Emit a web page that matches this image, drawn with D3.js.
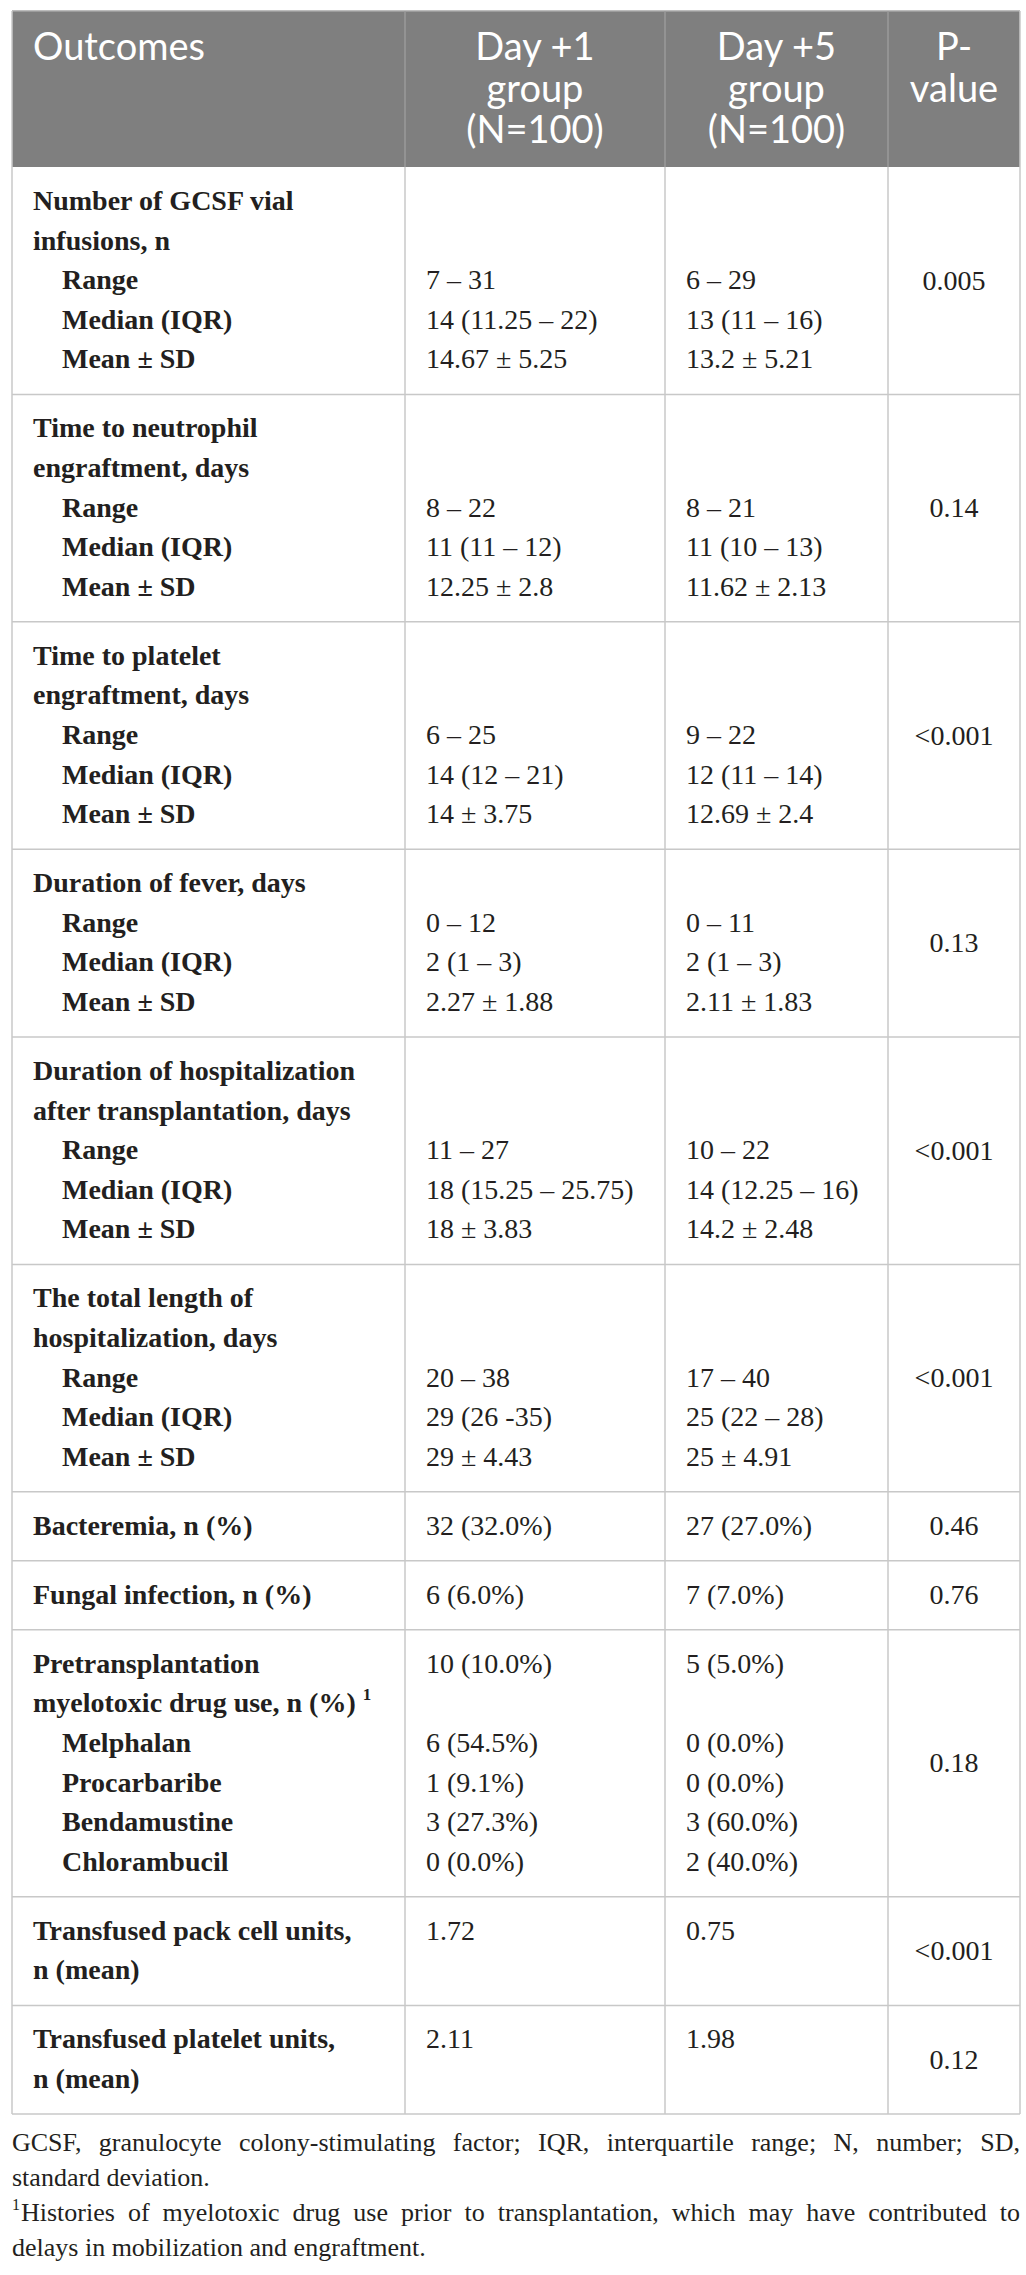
<!DOCTYPE html>
<html>
<head>
<meta charset="utf-8">
<script src="https://cdn.jsdelivr.net/npm/d3@7"></script>
<style>
  body { margin: 0; background: #fff; }
</style>
</head>
<body>
<svg id="tbl"></svg>
<script>
// header cells
const headers = [
    ["Outcomes"],
    ["Day +1", "group", "(N=100)"],
    ["Day +5", "group", "(N=100)"],
    ["P-", "value"]
];

// one entry per outcome block: first lines are bold titles, rest indented sub rows
const titles = [
    ["Number of GCSF vial", "infusions, n"],
    ["Time to neutrophil", "engraftment, days"],
    ["Time to platelet", "engraftment, days"],
    ["Duration of fever, days"],
    ["Duration of hospitalization", "after transplantation, days"],
    ["The total length of", "hospitalization, days"],
    ["Bacteremia, n (%)"],
    ["Fungal infection, n (%)"],
    ["Pretransplantation", "myelotoxic drug use, n (%)"],
    ["Transfused pack cell units,", "n (mean)"],
    ["Transfused platelet units,", "n (mean)"]
];

const stats = ["Range", "Median (IQR)", "Mean \u00b1 SD"];
const drugs = ["Melphalan", "Procarbaribe", "Bendamustine", "Chlorambucil"];
const subLabels = [stats, stats, stats, stats, stats, stats, [], [], drugs, [], []];

// values per line of each block (title lines included, "" = empty)
const day1 = [
    ["", "", "7 \u2013 31", "14 (11.25 \u2013 22)", "14.67 \u00b1 5.25"],
    ["", "", "8 \u2013 22", "11 (11 \u2013 12)", "12.25 \u00b1 2.8"],
    ["", "", "6 \u2013 25", "14 (12 \u2013 21)", "14 \u00b1 3.75"],
    ["", "0 \u2013 12", "2 (1 \u2013 3)", "2.27 \u00b1 1.88"],
    ["", "", "11 \u2013 27", "18 (15.25 \u2013 25.75)", "18 \u00b1 3.83"],
    ["", "", "20 \u2013 38", "29 (26 -35)", "29 \u00b1 4.43"],
    ["32 (32.0%)"],
    ["6 (6.0%)"],
    ["10 (10.0%)", "", "6 (54.5%)", "1 (9.1%)", "3 (27.3%)", "0 (0.0%)"],
    ["1.72", ""],
    ["2.11", ""]
];
const day5 = [
    ["", "", "6 \u2013 29", "13 (11 \u2013 16)", "13.2 \u00b1 5.21"],
    ["", "", "8 \u2013 21", "11 (10 \u2013 13)", "11.62 \u00b1 2.13"],
    ["", "", "9 \u2013 22", "12 (11 \u2013 14)", "12.69 \u00b1 2.4"],
    ["", "0 \u2013 11", "2 (1 \u2013 3)", "2.11 \u00b1 1.83"],
    ["", "", "10 \u2013 22", "14 (12.25 \u2013 16)", "14.2 \u00b1 2.48"],
    ["", "", "17 \u2013 40", "25 (22 \u2013 28)", "25 \u00b1 4.91"],
    ["27 (27.0%)"],
    ["7 (7.0%)"],
    ["5 (5.0%)", "", "0 (0.0%)", "0 (0.0%)", "3 (60.0%)", "2 (40.0%)"],
    ["0.75", ""],
    ["1.98", ""]
];
const pValues = ["0.005", "0.14", "<0.001", "0.13", "<0.001", "<0.001", "0.46", "0.76", "0.18", "<0.001", "0.12"];

const footnotes = [
    {text: "GCSF, granulocyte colony-stimulating factor; IQR, interquartile range; N, number; SD,", justify: true},
    {text: "standard deviation.", justify: false},
    {text: "Histories of myelotoxic drug use prior to transplantation, which may have contributed to", justify: true, sup: "1"},
    {text: "delays in mobilization and engraftment.", justify: false}
];

// layout
const W = 1026, H = 2275;
const tableLeft = 12, tableRight = 1020;
const headTop = 11, headBottom = 167;
const lineStep = 39.6, padTop = 43, padBottom = 26;
const ink = "#231f20";

const svg = d3.select("#tbl").attr("width", W).attr("height", H);

const colEdge = d3.scaleOrdinal()
    .domain(["outcome", "day1", "day5", "p", "end"])
    .range([tableLeft, 405, 665, 888, tableRight]);

// build blocks with y positions
let blocks = titles.map((t, i) => {
    let lines = t.map(s => ({label: s, bold: true}))
        .concat(subLabels[i].map(s => ({label: s, bold: true, indent: true})));
    lines.forEach((l, j) => { l.d1 = day1[i][j] || ""; l.d5 = day5[i][j] || ""; });
    return {lines: lines, p: pValues[i]};
});
let yCur = headBottom;
blocks.forEach(b => {
    b.top = yCur;
    b.bottom = yCur + padTop + (b.lines.length - 1) * lineStep + padBottom;
    yCur = b.bottom;
});
const tableBottom = yCur;

// header
const head = svg.append("g").attr("class", "head");
head.append("rect")
    .attr("x", tableLeft).attr("y", headTop)
    .attr("width", tableRight - tableLeft).attr("height", headBottom - headTop)
    .attr("fill", "#7f7f7f");
head.append("line")
    .attr("x1", tableLeft).attr("x2", tableRight)
    .attr("y1", headTop).attr("y2", headTop)
    .attr("stroke", "#a6a6a6").attr("stroke-width", 1.5);

const headKeys = ["outcome", "day1", "day5", "p"];
headers.forEach((lines, i) => {
    let k = headKeys[i];
    let x0 = colEdge(k), x1 = colEdge(headKeys[i + 1] || "end");
    head.append("text")
        .attr("font-family", "Lato, 'Open Sans', sans-serif")
        .attr("font-size", 38)
        .attr("fill", "#fff")
        .attr("text-anchor", i === 0 ? "start" : "middle")
        .selectAll("tspan").data(lines).enter().append("tspan")
        .attr("x", i === 0 ? x0 + 21 : (x0 + x1) / 2)
        .attr("y", (d, j) => 60 + j * 41.5)
        .text(d => d);
});

// grid lines
const grid = svg.append("g").attr("class", "grid")
    .attr("stroke", "#c8c8c8").attr("stroke-width", 1.5);
blocks.forEach(b => {
    grid.append("line")
        .attr("x1", tableLeft).attr("x2", tableRight)
        .attr("y1", b.bottom).attr("y2", b.bottom);
});
["outcome", "day1", "day5", "p", "end"].forEach(k => {
    grid.append("line")
        .attr("x1", colEdge(k)).attr("x2", colEdge(k))
        .attr("y1", k === "outcome" || k === "end" ? headTop : headBottom)
        .attr("y2", tableBottom);
});
// column separators inside the gray header
["day1", "day5", "p"].forEach(k => {
    head.append("line")
        .attr("x1", colEdge(k)).attr("x2", colEdge(k))
        .attr("y1", headTop).attr("y2", headBottom)
        .attr("stroke", "#9a9a9a").attr("stroke-width", 1.5);
});

// body text
const body = svg.append("g").attr("class", "body")
    .attr("font-family", "'Liberation Serif', 'Times New Roman', serif")
    .attr("font-size", 28)
    .attr("fill", ink);

blocks.forEach((b, i) => {
    let g = body.append("g").attr("class", "block");
    b.lines.forEach((l, j) => {
        let y = b.top + padTop + j * lineStep;
        let t = g.append("text")
            .attr("x", colEdge("outcome") + (l.indent ? 50 : 21))
            .attr("y", y)
            .attr("font-weight", l.bold ? "bold" : "normal")
            .text(l.label);
        // footnote marker on the drug-use title
        if (i === 8 && j === 1) {
            t.append("tspan").text(" ");
            t.append("tspan").attr("font-size", 17).attr("dy", -12).text("1");
        }
        if (l.d1) g.append("text").attr("x", colEdge("day1") + 21).attr("y", y).text(l.d1);
        if (l.d5) g.append("text").attr("x", colEdge("day5") + 21).attr("y", y).text(l.d5);
    });
    g.append("text")
        .attr("x", (colEdge("p") + colEdge("end")) / 2)
        .attr("y", (b.top + b.bottom) / 2 + 9)
        .attr("text-anchor", "middle")
        .text(b.p);
});

// footnotes, justified like the printed table note
const foot = svg.append("g").attr("class", "foot")
    .attr("font-family", "'Liberation Serif', 'Times New Roman', serif")
    .attr("font-size", 26)
    .attr("fill", ink);

footnotes.forEach((f, i) => {
    let y = tableBottom + 37 + i * 35;
    let x = tableLeft;
    if (f.sup) {
        let s = foot.append("text").attr("x", x).attr("y", y - 11)
            .attr("font-size", 16).text(f.sup);
        x += s.node().getComputedTextLength() + 1;
    }
    if (!f.justify) {
        foot.append("text").attr("x", x).attr("y", y).text(f.text);
        return;
    }
    let words = f.text.split(" ");
    let nodes = words.map(w => foot.append("text").attr("y", y).text(w));
    let widths = nodes.map(n => n.node().getComputedTextLength());
    let gap = (tableRight - x - d3.sum(widths)) / (words.length - 1);
    nodes.forEach((n, k) => {
        n.attr("x", x);
        x += widths[k] + gap;
    });
});
</script>
</body>
</html>
